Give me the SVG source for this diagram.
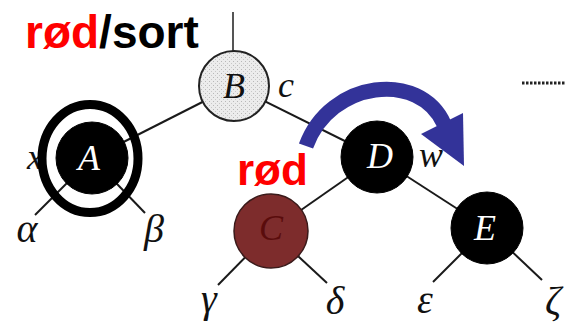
<svg xmlns="http://www.w3.org/2000/svg" width="565" height="324" viewBox="0 0 565 324">
<style>
.edge{stroke:#1a1a1a;stroke-width:2;fill:none}
.lbl{font-family:"Liberation Serif","DejaVu Serif",serif;font-style:italic;font-size:36px;fill:#111}
.nlbl{font-family:"Liberation Serif","DejaVu Serif",serif;font-style:italic;font-size:36px;text-anchor:middle}
.greek{font-family:"Liberation Serif","DejaVu Serif",serif;font-style:italic;font-size:40px;text-anchor:middle;fill:#111}
.title{font-family:"Liberation Sans",Arial,sans-serif;font-weight:bold}
.black{fill:#000;stroke:#000;stroke-width:1}
</style>
<defs>
<pattern id="stipple" width="4" height="4" patternUnits="userSpaceOnUse">
<rect width="4" height="4" fill="#ececec"/>
<rect x="1" y="1" width="1" height="1" fill="#b8b8b8"/>
<rect x="3" y="3" width="1" height="1" fill="#c8c8c8"/>
</pattern>
</defs>
<rect width="565" height="324" fill="#fff"/>
<g id="connectors">
<line x1="233" y1="12" x2="233" y2="52" stroke="#555" stroke-width="2"/>
<line class="edge" x1="234" y1="86" x2="92" y2="158"/>
<line class="edge" x1="234" y1="86" x2="377" y2="157"/>
<line class="edge" x1="377" y1="157" x2="271" y2="231"/>
<line class="edge" x1="377" y1="157" x2="487" y2="228"/>
<line class="edge" x1="92" y1="158" x2="35" y2="215"/>
<line class="edge" x1="92" y1="158" x2="145" y2="213"/>
<line class="edge" x1="271" y1="231" x2="218" y2="285"/>
<line class="edge" x1="271" y1="231" x2="327" y2="283"/>
<line class="edge" x1="487" y1="228" x2="433" y2="282"/>
<line class="edge" x1="487" y1="228" x2="542" y2="280"/>
<line x1="522" y1="83" x2="565" y2="83" stroke="#222" stroke-width="3" stroke-dasharray="2.5 1.5"/>
</g>
<text class="lbl" x="27" y="169" font-size="32">x</text>
<g id="node-B">
<circle cx="234" cy="86" r="35" fill="url(#stipple)" stroke="#222" stroke-width="2"/>
<text class="nlbl" x="234" y="98" fill="#111">B</text>
</g>
<text class="lbl" x="278" y="97">c</text>
<g id="node-A">
<circle cx="92" cy="158" r="36" class="black"/>
<text class="nlbl" x="89" y="170" fill="#fff">A</text>
<ellipse cx="90" cy="158.5" rx="48" ry="54" fill="none" stroke="#000" stroke-width="9"/>
</g>
<g id="node-D">
<circle cx="377" cy="157" r="36" class="black"/>
<text class="nlbl" x="380" y="168" fill="#fff">D</text>
</g>
<text class="lbl" x="419" y="167">w</text>
<g id="node-C">
<circle cx="271" cy="231" r="37" fill="#7d2c2c" stroke="#3a1a1a" stroke-width="1.5"/>
<text class="nlbl" x="271" y="240" fill="#5a0c0c">C</text>
</g>
<g id="node-E">
<circle cx="487" cy="228" r="36" class="black"/>
<text class="nlbl" x="485" y="240" fill="#fff">E</text>
</g>
<g id="leaves">
<text class="greek" x="27" y="242">α</text>
<text class="greek" x="154" y="242">β</text>
<text class="greek" x="209" y="312">γ</text>
<text class="greek" x="335" y="314">δ</text>
<text class="greek" x="425" y="313">ε</text>
<text class="greek" x="553" y="314">ζ</text>
</g>
<g id="rotation-arrow">
<path d="M 306 146 C 330 80, 420 70, 444 124" fill="none" stroke="#333399" stroke-width="15"/>
<polygon points="421,134 463,113 464,166" fill="#333399"/>
</g>
<text class="title" x="25" y="48" font-size="46"><tspan fill="#ff0000">rød</tspan><tspan fill="#000">/sort</tspan></text>
<text class="title" x="237" y="185" font-size="44" fill="#ff0000">rød</text>
</svg>
